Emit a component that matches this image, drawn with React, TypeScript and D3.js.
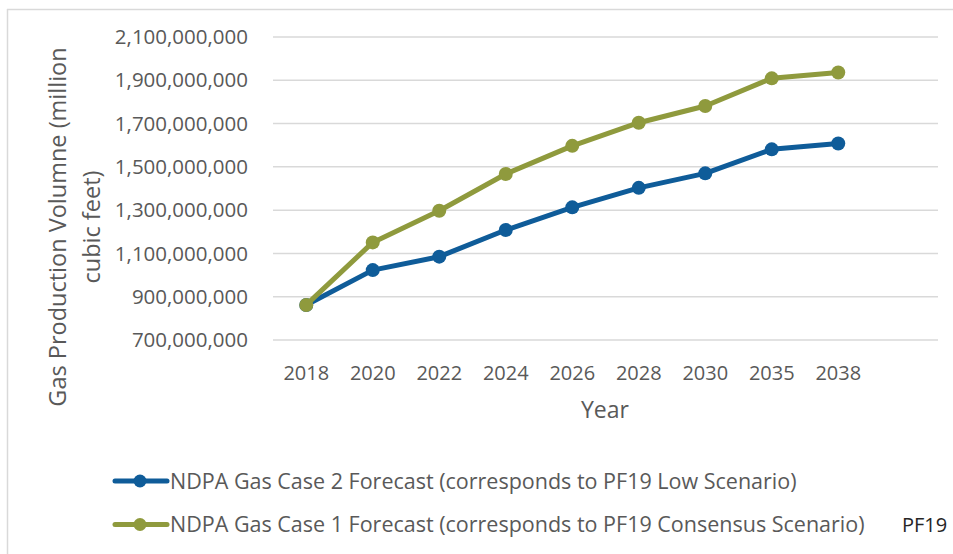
import React from "react";
import * as d3 from "d3";

const years = ["2018", "2020", "2022", "2024", "2026", "2028", "2030", "2035", "2038"];
const slots = [...years, ""];
const case2 = [862e6, 1023e6, 1085e6, 1208e6, 1313e6, 1403e6, 1470e6, 1581e6, 1608e6];
const case1 = [862e6, 1151e6, 1297e6, 1467e6, 1597e6, 1704e6, 1781e6, 1909e6, 1936e6];
const yTicks = [700e6, 900e6, 1100e6, 1300e6, 1500e6, 1700e6, 1900e6, 2100e6];
const seriesNames = [
  "NDPA Gas Case 2 Forecast (corresponds to PF19 Low Scenario)",
  "NDPA Gas Case 1 Forecast (corresponds to PF19 Consensus Scenario)",
];
const colors = ["#0f5c99", "#8f9a3d"];

const W = 953;
const H = 554;
const FONT = "'Open Sans', 'Noto Sans', sans-serif";

export default function App() {
  const x = d3.scaleBand<string>().domain(slots).range([273, 938]);
  const y = d3.scaleLinear().domain([700e6, 2100e6]).range([340, 37]);
  const fmt = d3.format(",");
  const cx = (i: number) => (x(years[i]) as number) + x.bandwidth() / 2;
  const line = d3
    .line<number>()
    .x((_, i) => cx(i))
    .y((d) => y(d));
  const series = [case2, case1];

  return (
    <svg width={W} height={H} style={{ position: "absolute", left: 0, top: 0, background: "#fff" }}>
      <rect x={0} y={0} width={W} height={H} fill="#fff" />
      <line x1={7} y1={9.5} x2={W} y2={9.5} stroke="#d9d9d9" strokeWidth={1.5} />
      <line x1={7.5} y1={9} x2={7.5} y2={H} stroke="#d9d9d9" strokeWidth={1.5} />
      {yTicks.map((t) => (
        <g key={t}>
          <line x1={273} x2={938} y1={y(t)} y2={y(t)} stroke="#d9d9d9" strokeWidth={1.5} />
          <text
            x={248}
            y={y(t)}
            dy="0.35em"
            textAnchor="end"
            fontFamily={FONT}
            fontSize={20.5}
            fill="#595959"
          >
            {fmt(t)}
          </text>
        </g>
      ))}
      {years.map((yr, i) => (
        <text
          key={yr}
          x={cx(i)}
          y={373}
          dy="0.35em"
          textAnchor="middle"
          fontFamily={FONT}
          fontSize={20}
          fill="#595959"
        >
          {yr}
        </text>
      ))}
      <text x={605} y={410} dy="0.35em" textAnchor="middle" fontFamily={FONT} fontSize={23} fill="#595959">
        Year
      </text>
      <g transform="translate(58,227) rotate(-90)">
        <text x={0} y={0} dy="0.35em" textAnchor="middle" fontFamily={FONT} fontSize={23.5} fill="#595959">
          Gas Production Volumne (million
        </text>
        <text x={0} y={34} dy="0.35em" textAnchor="middle" fontFamily={FONT} fontSize={23.5} fill="#595959">
          cubic feet)
        </text>
      </g>
      {series.map((s, si) => (
        <g key={si}>
          <path d={line(s) || ""} fill="none" stroke={colors[si]} strokeWidth={5} strokeLinejoin="round" />
          {s.map((v, i) => (
            <circle key={i} cx={cx(i)} cy={y(v)} r={7} fill={colors[si]} />
          ))}
        </g>
      ))}
      {seriesNames.map((name, i) => {
        const ly = 481 + i * 43.5;
        return (
          <g key={name}>
            <line x1={115} x2={167} y1={ly} y2={ly} stroke={colors[i]} strokeWidth={5} strokeLinecap="round" />
            <circle cx={140} cy={ly} r={6.5} fill={colors[i]} />
            <text x={170} y={ly} dy="0.35em" fontFamily={FONT} fontSize={21.5} fill="#595959">
              {name}
            </text>
          </g>
        );
      })}
      <text x={902} y={525} dy="0.35em" fontFamily={FONT} fontSize={20} fill="#262626">
        PF19
      </text>
    </svg>
  );
}
